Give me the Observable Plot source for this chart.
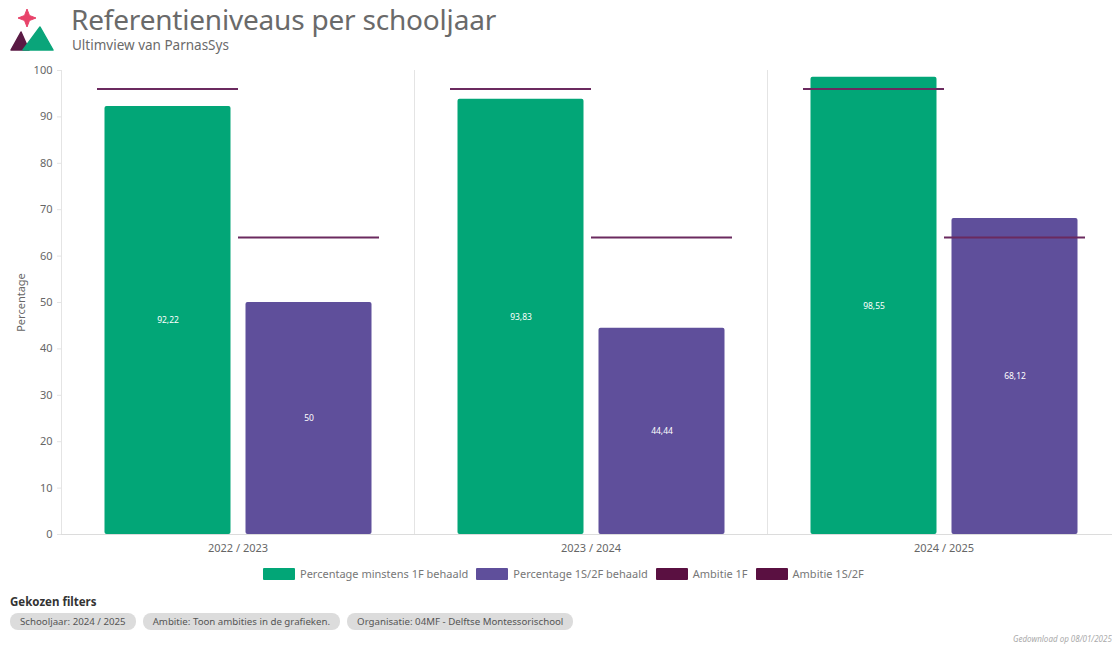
<!DOCTYPE html>
<html>
<head>
<meta charset="utf-8">
<script src="https://cdn.jsdelivr.net/npm/d3@7"></script>
<script src="https://cdn.jsdelivr.net/npm/@observablehq/plot@0.6"></script>
<style>
  html, body { margin: 0; padding: 0; background: #fff; width: 1112px; height: 645px; overflow: hidden; position: relative; font-family: "Noto Sans", sans-serif; }
  #logo { position: absolute; left: 0px; top: 0px; }
  #title { position: absolute; left: 71px; top: 4px; font-size: 28px; line-height: 31px; color: #6a6a6a; letter-spacing: -0.2px; white-space: nowrap; }
  #subtitle { position: absolute; left: 72px; top: 37px; font-size: 13.5px; line-height: 16px; color: #6a6a6a; white-space: nowrap; }
  #chart { position: absolute; left: 0; top: 56px; width: 1120px; }
  #chart svg { max-width: none !important; width: 1120px !important; height: 505px !important; }
  #legend { position: absolute; left: 263px; top: 566px; display: flex; align-items: center; font-size: 11px; color: #777; white-space: nowrap; }
  #legend .item { display: flex; align-items: center; margin-right: 8px; }
  #legend .sw { width: 32px; height: 12px; margin-right: 5px; border-radius: 1px; }
  #filtersTitle { position: absolute; left: 10px; top: 594px; font-size: 11.5px; font-weight: bold; color: #333; }
  #pills { position: absolute; left: 10px; top: 613px; display: flex; }
  #pills span { background: #dcdcdc; color: #555; font-size: 9.7px; border-radius: 8px; padding: 2px 10px; margin-right: 7px; height: 13px; line-height: 13px; white-space: nowrap; }
  #footer { position: absolute; left: 1013px; top: 633px; font-size: 8px; font-style: italic; color: #aaa; white-space: nowrap; }
</style>
</head>
<body>
<svg id="logo" width="60" height="56" viewBox="0 0 60 56">
  <path d="M27 9 L29.5 15.5 L36 18 L29.5 20.5 L27 27 L24.5 20.5 L18 18 L24.5 15.5 Z" fill="#e8436a" stroke="#e8436a" stroke-linejoin="round" stroke-width="1"/>
  <path d="M11 50 L21 32 L29 50 Z" fill="#5a1a44" stroke="#5a1a44" stroke-linejoin="round" stroke-width="1.5"/>
  <path d="M23 50 L40 27 L53 50 Z" fill="#0aa57a" stroke="#0aa57a" stroke-linejoin="round" stroke-width="1.5"/>
</svg>
<div id="title">Referentieniveaus per schooljaar</div>
<div id="subtitle">Ultimview van ParnasSys</div>
<div id="chart"></div>
<div id="legend"></div>
<div id="filtersTitle">Gekozen filters</div>
<div id="pills"></div>
<div id="footer">Gedownload op 08/01/2025</div>
<script>
const years = ["2022 / 2023", "2023 / 2024", "2024 / 2025"];
const series = ["Percentage minstens 1F behaald", "Percentage 1S/2F behaald"];
const ambitionSeries = ["Ambitie 1F", "Ambitie 1S/2F"];
const pct1F = [92.22, 93.83, 98.55];
const pct1S2F = [50, 44.44, 68.12];
const ambitie1F = [96, 96, 96];
const ambitie1S2F = [64, 64, 64];
const yTicks = [0, 10, 20, 30, 40, 50, 60, 70, 80, 90, 100];
const filters = ["Schooljaar: 2024 / 2025", "Ambitie: Toon ambities in de grafieken.", "Organisatie: 04MF - Delftse Montessorischool"];

const colors = ["#02a677", "#5f4f9b"];
const ambitionColor = "#6b2a5f";
const legendColors = ["#02a677", "#5f4f9b", "#5a1041", "#5a1041"];

const bars = [];
years.forEach((y, i) => {
  bars.push({year: y, series: series[0], value: pct1F[i]});
  bars.push({year: y, series: series[1], value: pct1S2F[i]});
});
const ambitions = [];
years.forEach((y, i) => {
  ambitions.push({year: y, series: series[0], value: ambitie1F[i]});
  ambitions.push({year: y, series: series[1], value: ambitie1S2F[i]});
});
const fmt = v => String(v).replace(".", ",");

const plot = Plot.plot({
  width: 1120,
  height: 505,
  marginLeft: 60,
  marginRight: 0,
  marginTop: 14,
  marginBottom: 27,
  style: {fontFamily: "Noto Sans, sans-serif", fontSize: "11px", color: "#666", background: "transparent", maxWidth: "none"},
  fx: {domain: years, padding: 0, label: null},
  x: {domain: series, paddingInner: 0, paddingOuter: 0.244, axis: null},
  y: {domain: [0, 100], label: null},
  color: {domain: series, range: colors},
  marks: [
    Plot.gridY(yTicks, {stroke: "#e8e8e8", strokeOpacity: 1, x1: 56}),
    Plot.frame({anchor: "left", stroke: "#e4e4e4"}),
    Plot.axisY(yTicks, {tickSize: 4, tickPadding: 5, stroke: "#e4e4e4", fill: "#666", fontSize: 11,
      label: "Percentage", labelAnchor: "center", labelArrow: "none", labelOffset: 44}),
    Plot.axisFx({anchor: "bottom", tickSize: 0, tickPadding: 10, fill: "#666", fontSize: 11, label: null}),
    Plot.barY(bars, {fx: "year", x: "series", y: "value", fill: "series", insetLeft: 7.5, insetRight: 7.5, rx: 2}),
    Plot.text(bars, {fx: "year", x: "series", y: d => d.value / 2, text: d => fmt(d.value), fill: "white", fontSize: 8.5}),
    Plot.tickY(ambitions, {fx: "year", x: "series", y: "value", stroke: ambitionColor, strokeWidth: 2}),
    Plot.ruleY([0], {stroke: "#dcdcdc"})
  ]
});
document.getElementById("chart").appendChild(plot);

const legend = document.getElementById("legend");
[...series, ...ambitionSeries].forEach((s, i) => {
  const item = document.createElement("div");
  item.className = "item";
  const sw = document.createElement("div");
  sw.className = "sw";
  sw.style.background = legendColors[i];
  const t = document.createElement("span");
  t.textContent = s;
  item.appendChild(sw); item.appendChild(t);
  legend.appendChild(item);
});
const pills = document.getElementById("pills");
filters.forEach(f => {
  const s = document.createElement("span");
  s.textContent = f;
  pills.appendChild(s);
});
</script>
</body>
</html>
